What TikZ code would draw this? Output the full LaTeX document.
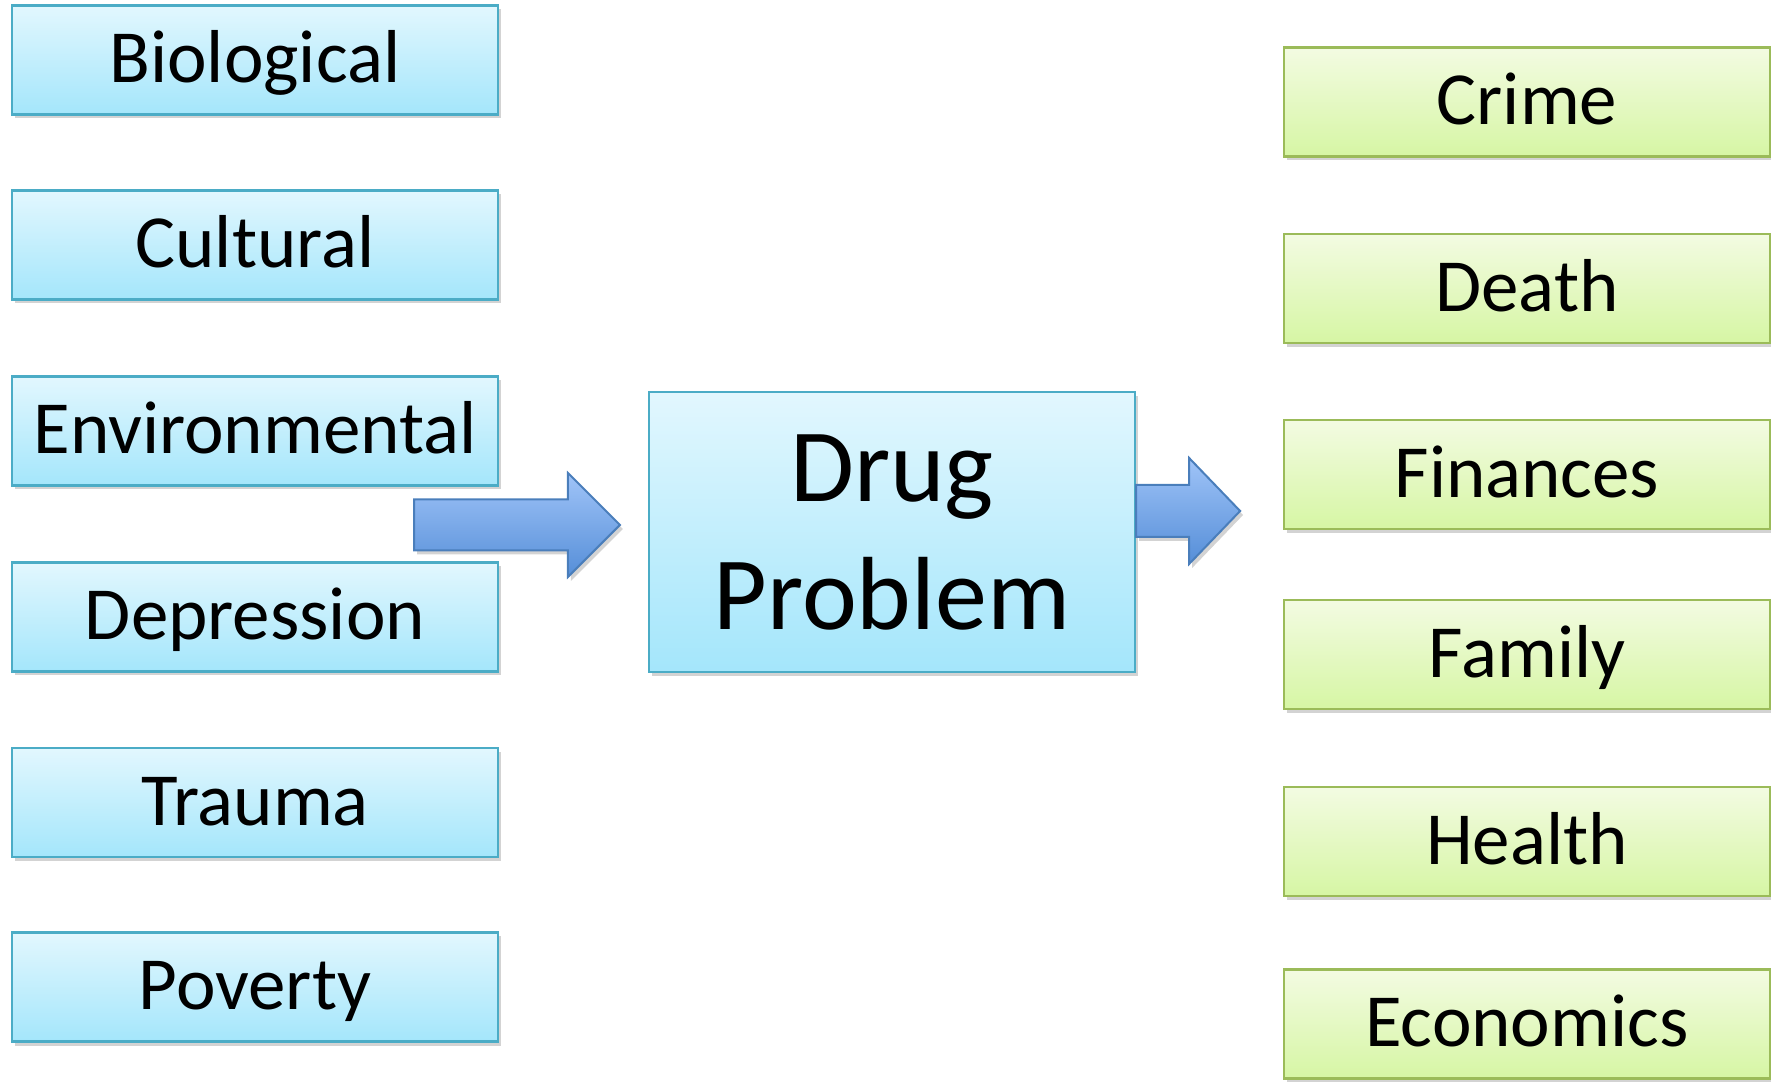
\documentclass[tikz,border=0pt]{standalone}
\usepackage{fontspec}
\setmainfont{Carlito}
\usepackage{tikz}
\usetikzlibrary{positioning, calc, shadows}

\definecolor{causeline}{HTML}{4BACC6}
\definecolor{causetop}{HTML}{E2F7FE}
\definecolor{causebot}{HTML}{A4E6FB}
\definecolor{effline}{HTML}{9BBB59}
\definecolor{efftop}{HTML}{F3FBE2}
\definecolor{effbot}{HTML}{D6F6A4}
\definecolor{arrline}{HTML}{4A7EBB}
\definecolor{arrtop}{HTML}{A0C4F8}
\definecolor{arrbot}{HTML}{558ED8}

\tikzset{
  basebox/.style={draw=causeline, line width=1.1pt, top color=causetop, bottom color=causebot,
    minimum width=243pt, inner sep=0pt,
    drop shadow={shadow xshift=1.5pt, shadow yshift=-2pt, opacity=0.35}},
  cause/.style={basebox, minimum height=54.5pt, text height=30.5pt, text depth=7.5pt,
    font=\fontsize{37.5}{45}\selectfont},
  effect/.style={cause, draw=effline, top color=efftop, bottom color=effbot},
  fatarrow/.style={draw=arrline, line width=1pt, top color=arrtop, bottom color=arrbot, line join=miter,
    drop shadow={shadow xshift=1.5pt, shadow yshift=-2pt, opacity=0.35}}
}

\newcommand{\fatarrow}[5]{%
  \draw[fatarrow] ($(#1)+(0,#3)$) -- ($(#2)+(-#5,#3)$) -- ($(#2)+(-#5,#4)$) -- (#2)
    -- ($(#2)+(-#5,-#4)$) -- ($(#2)+(-#5,-#3)$) -- ($(#1)+(0,-#3)$) -- cycle;}

\begin{document}
\begin{tikzpicture}[x=0.5pt,y=0.5pt]
\useasboundingbox (0,0) rectangle (1771,1081);

\node[cause] (bio) at (255,1021) {Biological};
\node[cause] (cult) at (255,836) {Cultural};
\node[cause] (env) at (255,650) {Environmental};
\node[cause] (dep) at (255,464) {Depression};
\node[cause] (trau) at (255,278.5) {Trauma};
\node[cause] (pov) at (255,94) {Poverty};

\node[basebox, minimum height=140pt, align=center, font=\fontsize{52}{64}\selectfont] (drug) at (892,549) {Drug\\Problem};

\node[effect] (crime) at (1527,979) {Crime};
\node[effect] (death) at (1527,792.5) {Death};
\node[effect] (fin) at (1527,606.5) {Finances};
\node[effect] (fam) at (1527,426.5) {Family};
\node[effect] (health) at (1527,239.5) {Health};
\node[effect] (econ) at (1527,57) {Economics};

\coordinate (intail) at (414,556);
\coordinate (intip) at ($(drug.west)+(-28,7)$);
\coordinate (outtail) at ($(drug.east)+(0,21)$);
\coordinate (outtip) at ($(drug.east)+(104,21)$);

\fatarrow{intail}{intip}{25.5}{52}{52}
\fatarrow{outtail}{outtip}{26}{53}{51}
\end{tikzpicture}
\end{document}
